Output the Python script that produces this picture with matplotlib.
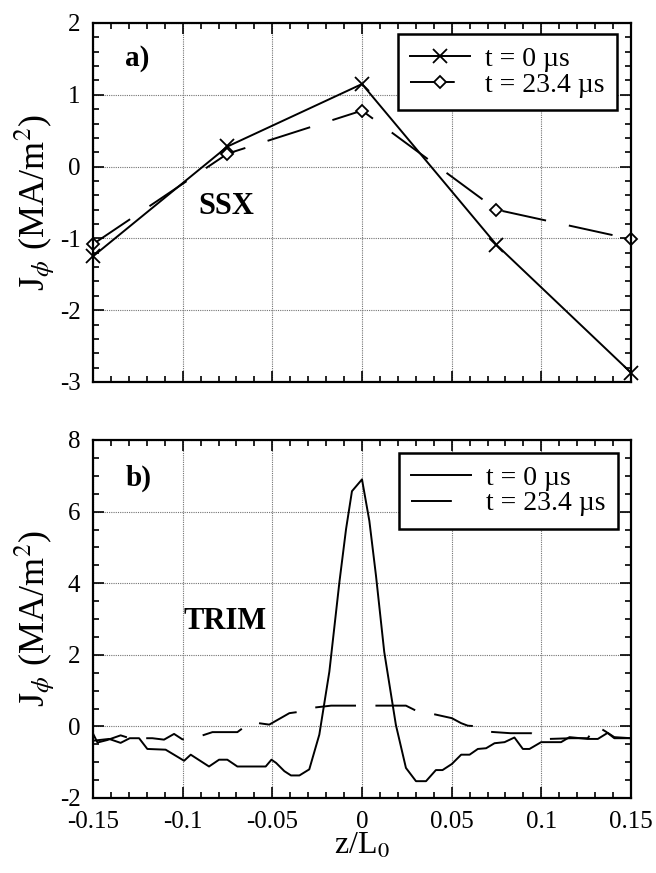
import matplotlib
matplotlib.use("Agg")
import matplotlib.pyplot as plt
from matplotlib.ticker import FixedLocator, MultipleLocator

plt.rcParams['font.family'] = ['Liberation Serif', 'DejaVu Serif']
plt.rcParams['mathtext.fontset'] = 'stix'
plt.rcParams['axes.unicode_minus'] = False

# ---- panel a) SSX ----
ssx_z = [-0.15, -0.075, 0.0, 0.075, 0.15]
ssx_t0 = [-1.25, 0.28, 1.15, -1.09, -2.87]
ssx_t23 = [-1.08, 0.18, 0.78, -0.60, -1.01]

# ---- panel b) TRIM ----
trim_z_t0 = [-0.15, -0.141, -0.1346, -0.1295, -0.1243, -0.1197, -0.1095, -0.0992,
             -0.0955, -0.0853, -0.0797, -0.0751, -0.0695, -0.0537, -0.0505, -0.0479,
             -0.0433, -0.0396, -0.0349, -0.0294, -0.0238, -0.0182, -0.0126, -0.0089,
             -0.0056, 0.0, 0.0041, 0.0078, 0.0124, 0.0189, 0.0245, 0.0301, 0.0357,
             0.0412, 0.0449, 0.0501, 0.0553, 0.0600, 0.0646, 0.0692, 0.0739, 0.0795,
             0.0850, 0.0897, 0.0934, 0.0999, 0.1110, 0.1157, 0.1259, 0.1315, 0.1370,
             0.1407, 0.15]
trim_t0 = [-0.40, -0.35, -0.46, -0.33, -0.33, -0.63, -0.65, -0.96,
           -0.79, -1.12, -0.93, -0.93, -1.12, -1.12, -0.93, -1.02,
           -1.25, -1.37, -1.37, -1.20, -0.23, 1.53, 4.03, 5.51,
           6.57, 6.90, 5.74, 4.21, 2.08, 0.04, -1.16, -1.53, -1.53,
           -1.22, -1.22, -1.05, -0.79, -0.79, -0.63, -0.61, -0.47, -0.44,
           -0.31, -0.63, -0.63, -0.44, -0.44, -0.30, -0.35, -0.35, -0.18,
           -0.30, -0.33]

trim_z_t23 = [-0.15, -0.1475, -0.142, -0.1346, -0.1295, -0.1243, -0.1169, -0.1104,
              -0.1048, -0.1002, -0.0955, -0.0834, -0.0695, -0.0620, -0.0517, -0.0405,
              -0.0331, -0.0294, -0.0172, 0.005, 0.016, 0.0245, 0.0301, 0.0375,
              0.0501, 0.0553, 0.0590, 0.0637, 0.0665, 0.0711, 0.0828, 0.0943,
              0.0989, 0.1045, 0.1166, 0.1259, 0.1305, 0.1361, 0.1407, 0.15]
trim_t23 = [-0.20, -0.45, -0.38, -0.25, -0.33, -0.33, -0.33, -0.37,
            -0.21, -0.36, -0.36, -0.16, -0.16, 0.12, 0.05, 0.37,
            0.42, 0.51, 0.58, 0.58, 0.58, 0.58, 0.44, 0.37,
            0.23, 0.09, 0.02, 0.005, -0.07, -0.15, -0.19, -0.19,
            -0.33, -0.35, -0.33, -0.33, 0.02, -0.15, -0.33, -0.33]

x_ticks = [-0.15, -0.1, -0.05, 0, 0.05, 0.1, 0.15]
x_ticklabels = ['-0.15', '-0.1', '-0.05', '0', '0.05', '0.1', '0.15']
ya_ticks = [-3, -2, -1, 0, 1, 2]
yb_ticks = [-2, 0, 2, 4, 6, 8]
legend_labels = ['t = 0 \u00b5s', 't = 23.4 \u00b5s']

fig = plt.figure(figsize=(6.56, 8.73), dpi=100)
W, H = 656.0, 873.0
ax1 = fig.add_axes([93 / W, 1 - 382 / H, 538 / W, 359 / H])
ax2 = fig.add_axes([93 / W, 1 - 798 / H, 538 / W, 358 / H])


def style_axes(ax, yticks, yminor):
    ax.set_xlim(-0.15, 0.15)
    ax.set_ylim(yticks[0], yticks[-1])
    ax.xaxis.set_major_locator(FixedLocator(x_ticks))
    ax.xaxis.set_minor_locator(MultipleLocator(0.01))
    ax.yaxis.set_major_locator(FixedLocator(yticks))
    ax.set_yticklabels([str(v) for v in yticks])
    ax.yaxis.set_minor_locator(MultipleLocator(yminor))
    ax.tick_params(which='both', direction='in', top=True, right=True,
                   labelsize=18, pad=9, width=1.2)
    ax.tick_params(which='major', length=8)
    ax.tick_params(which='minor', length=4.5)
    for s in ax.spines.values():
        s.set_linewidth(1.6)
    ax.grid(True, which='major', color='0.45', linestyle=(0, (1, 1)), linewidth=0.8)
    ax.set_axisbelow(True)
    ax.set_ylabel(r'J$_{\phi}$ (MA/m$^{2}$)', fontsize=26)
    ax.yaxis.set_label_coords(-0.066, 0.5)


style_axes(ax1, ya_ticks, 0.2)
style_axes(ax2, yb_ticks, 0.5)
ax1.set_xticklabels([])
ax2.set_xticklabels(x_ticklabels)
ax2.set_xlabel(r'z/L$_0$', fontsize=23)
ax2.xaxis.set_label_coords(0.5, -0.095)

# panel a
ax1.plot(ssx_z, ssx_t0, color='black', lw=1.4, marker='x', ms=10, mew=1.3,
         clip_on=False, label=legend_labels[0])
ax1.plot(ssx_z, ssx_t23, color='black', lw=1.4, linestyle=(0, (23, 12)),
         marker='D', ms=6, mfc='white', mew=1.3, clip_on=False,
         label=legend_labels[1])
ax1.text(-0.132, 1.51, 'a)', fontsize=21, fontweight='bold', va='center')
ax1.text(-0.0914, -0.56, 'SSX', fontsize=22, fontweight='bold', va='center')

# panel b
ax2.plot(trim_z_t0, trim_t0, color='black', lw=1.4, label=legend_labels[0])
ax2.plot(trim_z_t23, trim_t23, color='black', lw=1.4, linestyle=(0, (21, 10)),
         label=legend_labels[1])
ax2.text(-0.132, 6.94, 'b)', fontsize=21, fontweight='bold', va='center')
ax2.text(-0.0998, 2.94, 'TRIM', fontsize=22, fontweight='bold', va='center')

for ax, anchor in [(ax1, (0.974, 0.969)), (ax2, (0.976, 0.964))]:
    leg = ax.legend(loc='upper right', bbox_to_anchor=anchor, borderaxespad=0,
                    fontsize=20, handlelength=2.15, handletextpad=0.55,
                    borderpad=0.45, labelspacing=0.0, fancybox=False,
                    framealpha=1, edgecolor='black', numpoints=1)
    leg.get_frame().set_linewidth(1.8)

fig.savefig('out.png', dpi=100)
